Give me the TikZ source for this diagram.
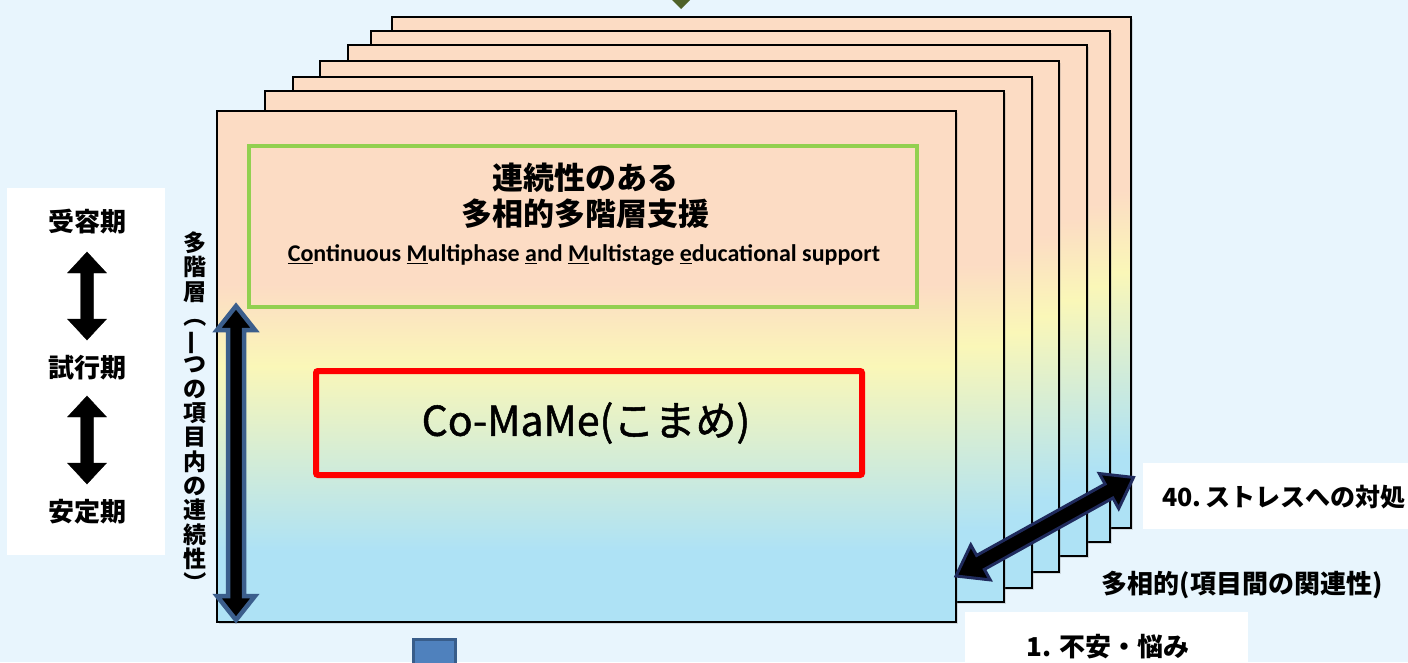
\documentclass[tikz,border=0pt]{standalone}
\usepackage{fontspec}
\newfontfamily\jp{Noto Sans CJK JP}
\newfontfamily\jpm{Noto Sans CJK JP}[FakeBold=1.2]
\newfontfamily\carl{Carlito}
\usetikzlibrary{shadows}
\definecolor{bg}{HTML}{E8F5FD}
\definecolor{cpeach}{HTML}{FCDCC4}
\definecolor{cyellow}{HTML}{FAF7B8}
\definecolor{cblue}{HTML}{AEE2F5}
\definecolor{gbox}{HTML}{92D050}
\definecolor{arrblue}{HTML}{3B5E8C}
\definecolor{navy}{HTML}{1F2A5C}
\definecolor{olive}{HTML}{4F6228}
\definecolor{sqfill}{HTML}{4F81BD}
\definecolor{sqline}{HTML}{385D8A}
\pgfdeclareverticalshading{cardshade}{100bp}{color(0bp)=(cblue); color(32bp)=(cblue); color(50bp)=(cyellow); color(58bp)=(cpeach); color(100bp)=(cpeach)}
\newcommand\DArrow[7]{%
  \begin{scope}[shift={#1}, rotate=#2]
    \draw[#7] (0,0) -- (#6,#5) -- (#6,#4) -- (#3-#6,#4) -- (#3-#6,#5) -- (#3,0)
      -- (#3-#6,-#5) -- (#3-#6,-#4) -- (#6,-#4) -- (#6,-#5) -- cycle;
  \end{scope}}
\newcommand\vch[2]{\makebox[1em]{\rotatebox[origin=c]{#1}{#2}}}
\begin{document}
\begin{tikzpicture}[x=1pt,y=-1pt,
  card/.style={draw=black, line width=1.5pt, shading=cardshade, inner sep=0pt,
    minimum width=739pt, minimum height=511pt, anchor=north west,
    drop shadow={shadow xshift=2.5pt, shadow yshift=-2.5pt, opacity=0.25}},
  jlbl/.style={font=\jp\bfseries\fontsize{26}{30}\selectfont, inner sep=0pt},
  wbox/.style={fill=white, draw=none, inner sep=0pt, anchor=north west}
]
\fill[bg] (0,0) rectangle (1408,662);
\useasboundingbox (0,0) rectangle (1408,662);

% top arrow tip and bottom square
\fill[olive] (671,-1) -- (691,-1) -- (681,9) -- cycle;
\draw[sqline, fill=sqfill, line width=3pt] (413.5,639.5) rectangle (455.5,670);

% stacked cards
\node[card] (c7) at (391,16) {};
\node[card] (c6) at (370,30) {};
\node[card] (c5) at (347,44) {};
\node[card] (c4) at (319,60) {};
\node[card] (c3) at (292,76) {};
\node[card] (c2) at (264,90) {};
\node[card] (c1) at (216,110) {};

% green box
\node[draw=gbox, line width=4pt, minimum width=668pt, minimum height=161pt, inner sep=0pt] (gb) at (583,226.5) {};
\node[font=\jp\bfseries\fontsize{31}{36}\selectfont, align=center, inner sep=0pt] (gt) at (585,196) {連続性のある\\多相的多階層支援};
\node[font=\carl\bfseries\fontsize{24}{26}\selectfont, inner sep=0pt] (et) at (584,255)
  {\underline{Co}ntinuous \underline{M}ultiphase \underline{a}nd \underline{M}ultistage \underline{e}ducational support};

% red box
\node[draw=red, line width=6pt, rounded corners=2pt, minimum width=546pt, minimum height=104pt, inner sep=0pt] (rb) at (589,423) {};
\node[font=\jpm\fontsize{41}{46}\selectfont, inner sep=0pt] (rt) at (586,423) {Co-MaMe(こまめ)};

% vertical arrow in the front card
\coordinate (va) at (236,306);
\DArrow{(va)}{-90}{314}{8}{19}{24}{fill=black, draw=arrblue, line width=4.5pt}

% vertical text
\node[font=\jp\bfseries\fontsize{23}{24.3}\selectfont, align=center, inner sep=0pt] (vt) at (195,413)
  {多\\階\\層\\\vch{-90}{（}\\\vch{90}{一}\\つ\\の\\項\\目\\内\\の\\連\\続\\性\\\vch{-90}{）}};

% left white box
\node[wbox, minimum width=158pt, minimum height=367pt] (lb) at (7,188) {};
\node[jlbl] (p1) at (87,222) {受容期};
\node[jlbl] (p2) at (87,368) {試行期};
\node[jlbl] (p3) at (87,512) {安定期};
\coordinate (la1) at (87,252);
\coordinate (la2) at (87,396);
\DArrow{(la1)}{-90}{88}{6.5}{19.5}{21}{fill=black}
\DArrow{(la2)}{-90}{88}{6.5}{19.5}{21}{fill=black}

% diagonal arrow
\coordinate (da) at (956,576);
\DArrow{(da)}{29.05}{203}{8}{20}{28}{fill=black, draw=navy, line width=3pt}

% right labels
\node[wbox, minimum width=270pt, minimum height=66pt] (rbx) at (1143,463) {};
\node[font=\jp\bfseries\fontsize{25}{30}\selectfont, inner sep=0pt] (r1) at (1284,497) {40.\,ストレスへの対処};
\node[jlbl] (r2) at (1242,585) {多相的(項目間の関連性)};
\node[wbox, minimum width=283pt, minimum height=60pt] (bbx) at (965,612) {};
\node[jlbl] (r3) at (1108,647) {1. 不安・悩み};
\end{tikzpicture}
\end{document}
